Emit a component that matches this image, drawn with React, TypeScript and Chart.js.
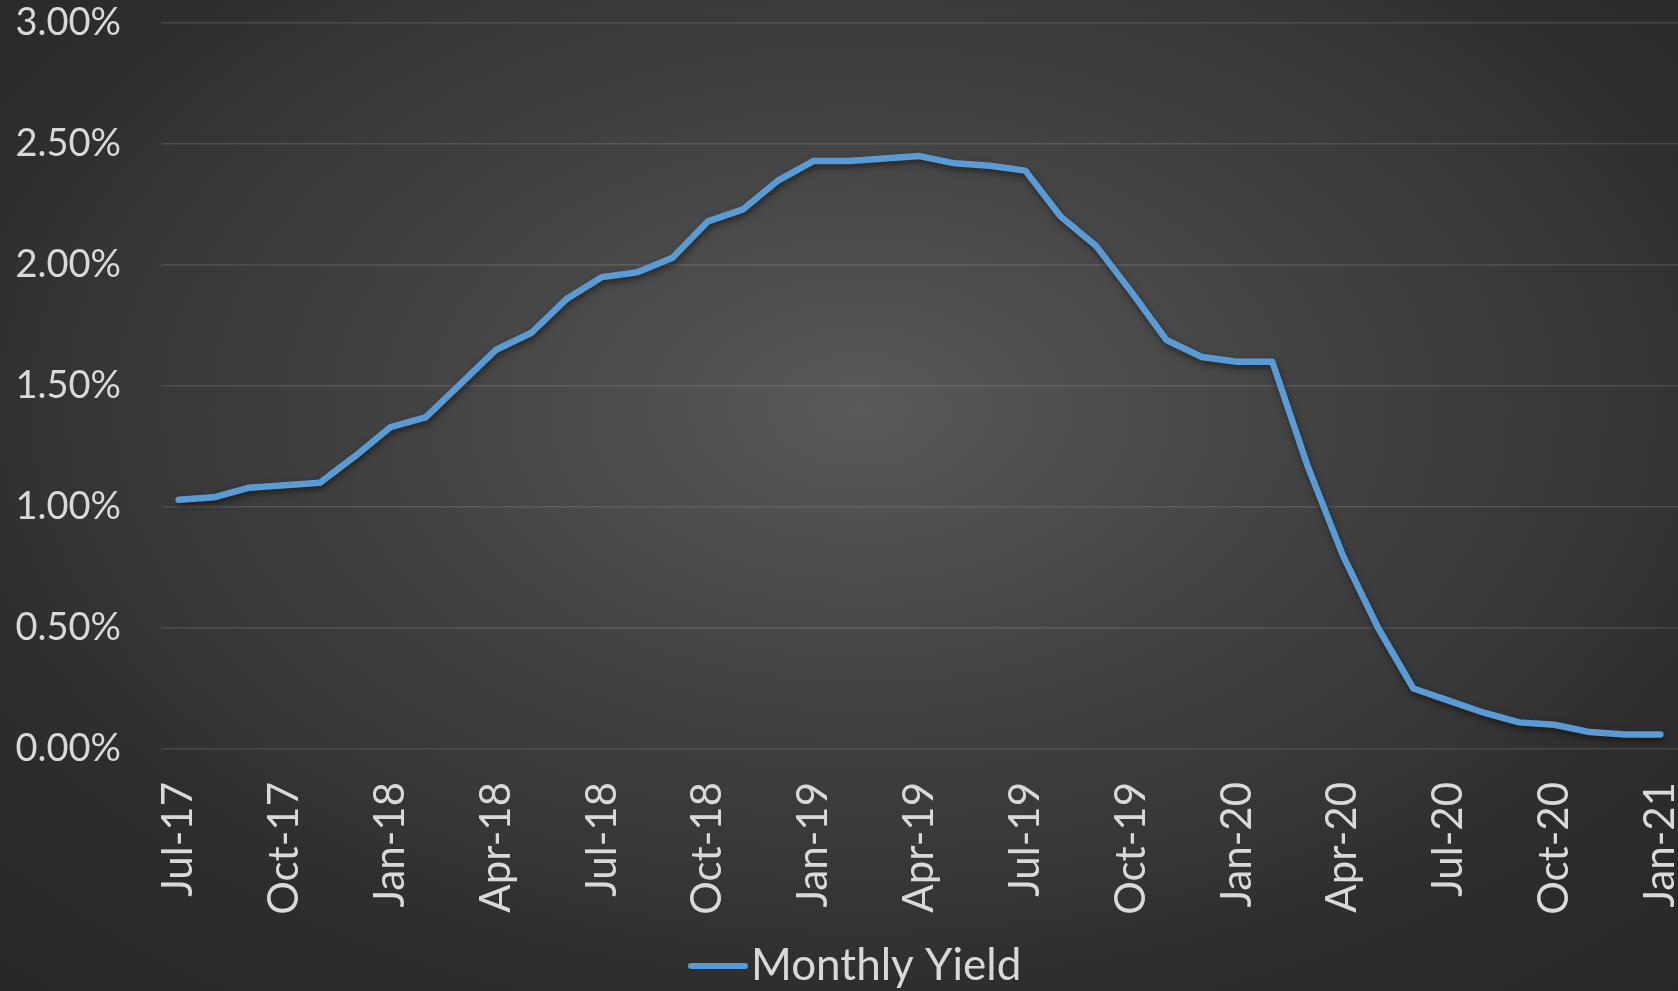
import React, { useEffect, useRef } from "react";
import { Chart, registerables } from "chart.js";

Chart.register(...registerables);

const months: string[] = [
  "Jul-17", "Aug-17", "Sep-17", "Oct-17", "Nov-17", "Dec-17",
  "Jan-18", "Feb-18", "Mar-18", "Apr-18", "May-18", "Jun-18",
  "Jul-18", "Aug-18", "Sep-18", "Oct-18", "Nov-18", "Dec-18",
  "Jan-19", "Feb-19", "Mar-19", "Apr-19", "May-19", "Jun-19",
  "Jul-19", "Aug-19", "Sep-19", "Oct-19", "Nov-19", "Dec-19",
  "Jan-20", "Feb-20", "Mar-20", "Apr-20", "May-20", "Jun-20",
  "Jul-20", "Aug-20", "Sep-20", "Oct-20", "Nov-20", "Dec-20",
  "Jan-21",
];

const monthlyYield: number[] = [
  1.03, 1.04, 1.08, 1.09, 1.1, 1.21,
  1.33, 1.37, 1.51, 1.65, 1.72, 1.86,
  1.95, 1.97, 2.03, 2.18, 2.23, 2.35,
  2.43, 2.43, 2.44, 2.45, 2.42, 2.41,
  2.39, 2.2, 2.08, 1.89, 1.69, 1.62,
  1.6, 1.6, 1.17, 0.8, 0.5, 0.25,
  0.2, 0.15, 0.11, 0.1, 0.07, 0.06,
  0.06,
];

const seriesName = "Monthly Yield";
const yTicks: number[] = [0, 0.5, 1, 1.5, 2, 2.5, 3];

const LINE_COLOR = "#5B9BD5";
const TEXT_COLOR = "#d9d9d9";
const FONT = "Lato, 'Open Sans', sans-serif";

const W = 1678;
const H = 991;

const bgPlugin = {
  id: "bgGradient",
  beforeDraw(chart: any) {
    const ctx = chart.ctx as CanvasRenderingContext2D;
    ctx.save();
    ctx.fillStyle = "#262626";
    ctx.fillRect(0, 0, chart.width, chart.height);
    const cx = 860;
    const cy = 410;
    const rx = 1300;
    const ry = 820;
    ctx.translate(cx, cy);
    ctx.scale(1, ry / rx);
    const g = ctx.createRadialGradient(0, 0, 0, 0, 0, rx);
    g.addColorStop(0, "#595959");
    g.addColorStop(0.34, "#434343");
    g.addColorStop(0.62, "#343434");
    g.addColorStop(0.68, "#2f2f2f");
    g.addColorStop(0.8, "#2b2b2b");
    g.addColorStop(1, "#262626");
    ctx.fillStyle = g;
    ctx.fillRect(-cx - 10, -cy * (rx / ry) - 10, chart.width + 20, chart.height * (rx / ry) + 20);
    ctx.restore();
  },
};

const shadowPlugin = {
  id: "lineShadow",
  beforeDatasetsDraw(chart: any) {
    const ctx = chart.ctx as CanvasRenderingContext2D;
    ctx.save();
    ctx.shadowColor = "rgba(0,0,0,0.5)";
    ctx.shadowBlur = 6;
    ctx.shadowOffsetX = 1;
    ctx.shadowOffsetY = 3;
  },
  afterDatasetsDraw(chart: any) {
    chart.ctx.restore();
  },
};

const legendPlugin = {
  id: "customLegend",
  afterDraw(chart: any) {
    const ctx = chart.ctx as CanvasRenderingContext2D;
    const ds = chart.data.datasets[0];
    ctx.save();
    const y = 966;
    ctx.strokeStyle = ds.borderColor;
    ctx.lineWidth = 6;
    ctx.lineCap = "round";
    ctx.beginPath();
    ctx.moveTo(691, y);
    ctx.lineTo(745, y);
    ctx.stroke();
    ctx.fillStyle = TEXT_COLOR;
    ctx.font = `44px ${FONT}`;
    ctx.textAlign = "left";
    ctx.textBaseline = "alphabetic";
    ctx.fillText(ds.label, 751, 980);
    ctx.restore();
  },
};

export default function App() {
  const canvasRef = useRef<HTMLCanvasElement | null>(null);

  useEffect(() => {
    document.body.style.margin = "0";
    document.body.style.overflow = "hidden";
    const canvas = canvasRef.current;
    if (!canvas) return;
    const chart = new Chart(canvas, {
      type: "line",
      data: {
        labels: months,
        datasets: [
          {
            label: seriesName,
            data: monthlyYield,
            borderColor: LINE_COLOR,
            backgroundColor: LINE_COLOR,
            borderWidth: 6.5,
            borderCapStyle: "round",
            borderJoinStyle: "round",
            pointRadius: 0,
            pointHoverRadius: 0,
            tension: 0,
            fill: false,
          },
        ],
      },
      options: {
        animation: false,
        responsive: false,
        devicePixelRatio: 1,
        events: [],
        layout: {
          padding: { left: 0, right: 0, top: 23, bottom: 72 },
        },
        plugins: {
          legend: { display: false },
          tooltip: { enabled: false },
        },
        scales: {
          x: {
            type: "category",
            offset: true,
            grid: { display: false, drawTicks: false },
            border: { display: false },
            ticks: {
              autoSkip: false,
              maxRotation: 90,
              minRotation: 90,
              padding: 33,
              color: TEXT_COLOR,
              font: { family: FONT, size: 42 },
              callback: (_v: any, i: number) => (i % 3 === 0 ? months[i] : ""),
            },
            afterFit: (scale: any) => {
              scale.height = 170;
              scale.paddingLeft = 0;
              scale.paddingRight = 0;
            },
          },
          y: {
            min: 0,
            max: 3,
            afterBuildTicks: (scale: any) => {
              scale.ticks = yTicks.map((v) => ({ value: v }));
            },
            grid: {
              color: "rgba(255,255,255,0.12)",
              lineWidth: 1.5,
              drawTicks: false,
            },
            border: { display: false },
            ticks: {
              padding: 40,
              color: TEXT_COLOR,
              font: { family: FONT, size: 38 },
              callback: (v: any) => `${Number(v).toFixed(2)}%`,
            },
            afterFit: (scale: any) => {
              scale.width = 161;
              scale.paddingTop = 0;
              scale.paddingBottom = 0;
            },
          },
        },
      },
      plugins: [bgPlugin, shadowPlugin, legendPlugin],
    });
    return () => chart.destroy();
  }, []);

  return (
    <div style={{ width: W, height: H }}>
      <canvas ref={canvasRef} width={W} height={H} style={{ display: "block" }} />
    </div>
  );
}
